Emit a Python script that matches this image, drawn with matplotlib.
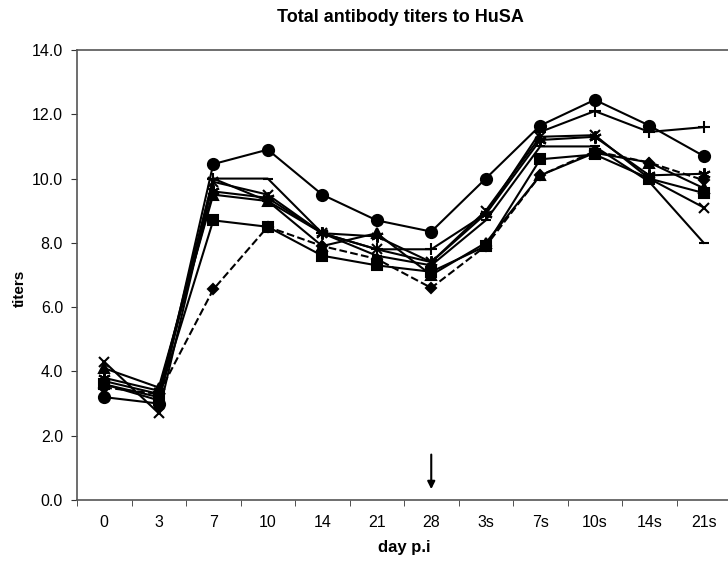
import matplotlib
matplotlib.use("Agg")
import matplotlib.pyplot as plt
import numpy as np

plt.rcParams['font.family'] = ['Liberation Sans', 'DejaVu Sans']

days = ["0", "3", "7", "10", "14", "21", "28", "3s", "7s", "10s", "14s", "21s"]

s_circle   = [3.2, 3.0, 10.45, 10.9, 9.5, 8.7, 8.35, 10.0, 11.65, 12.45, 11.65, 10.7]
s_plus     = [3.6, 3.1, 10.0, 9.3, 8.3, 7.8, 7.8, 8.9, 11.45, 12.1, 11.45, 11.6]
s_dash     = [3.7, 3.3, 10.0, 10.0, 8.3, 7.6, 7.3, 8.7, 11.0, 11.0, 9.9, 8.0]
s_x        = [4.3, 2.7, 9.9, 9.5, 8.3, 7.8, 7.4, 9.0, 11.3, 11.35, 10.0, 9.1]
s_star     = [3.8, 3.4, 9.6, 9.4, 8.3, 8.2, 7.4, 8.9, 11.2, 11.3, 10.1, 10.15]
s_square   = [3.6, 3.2, 8.7, 8.5, 7.6, 7.3, 7.1, 7.9, 10.6, 10.75, 10.0, 9.55]
s_triangle = [4.1, 3.5, 9.5, 9.3, 7.9, 8.3, 7.0, 8.0, 10.1, 10.8, 10.5, 9.7]
s_diamond  = [3.5, 3.3, 6.55, 8.5, 7.9, 7.5, 6.6, 7.9, 10.1, 10.85, 10.5, 9.95]

series = [
    (s_circle, 'o', '-', 8),
    (s_plus, '+', '-', 8),
    (s_dash, '_', '-', 7),
    (s_x, 'x', '-', 7),
    (s_star, (6, 2, 0), '-', 9),
    (s_square, 's', '-', 7),
    (s_triangle, '^', '-', 7),
    (s_diamond, 'D', '--', 5),
]

fig = plt.figure(figsize=(7.28, 5.63), dpi=100)
ax = fig.add_axes([77/728, 63/563, 654/728, 450/563])

x = np.arange(len(days))
for vals, m, ls, ms in series:
    ax.plot(x, vals, color='black', linestyle=ls, linewidth=1.5, marker=m,
            markersize=ms, markeredgewidth=1.5, markerfacecolor='black',
            markeredgecolor='black')

ax.set_xlim(-0.5, len(days) - 0.5)
ax.set_ylim(0, 14)
ax.set_yticks(np.arange(0, 14.1, 2))
ax.set_yticklabels([f"{v:.1f}" for v in np.arange(0, 14.1, 2)], fontsize=11.5)
ax.set_xticks(x)
ax.set_xticklabels(days, fontsize=11.5)
ax.set_xticks(np.arange(-0.5, len(days), 1), minor=True)
ax.tick_params(axis='x', which='major', length=0, pad=11)
ax.tick_params(axis='x', which='minor', length=4, direction='out', color='#333333')
ax.tick_params(axis='y', length=4, direction='out', color='#333333', pad=6)

for sp in ax.spines.values():
    sp.set_color('#555555')
    sp.set_linewidth(1.2)

ax.set_xlabel("day p.i", fontsize=12, fontweight='bold', labelpad=7)
ax.set_ylabel("titers", fontsize=11, fontweight='bold')
ax.yaxis.set_label_coords(-0.077, 0.471)
fig.text(400/728, 1 - 18/563, "Total antibody titers to HuSA", ha='center', va='center',
         fontsize=13, fontweight='bold')

ax.annotate("", xy=(6, 0.25), xytext=(6, 1.5),
            arrowprops=dict(arrowstyle='-|>', color='black', lw=1.5, mutation_scale=11))

fig.savefig("out.png", dpi=100)
